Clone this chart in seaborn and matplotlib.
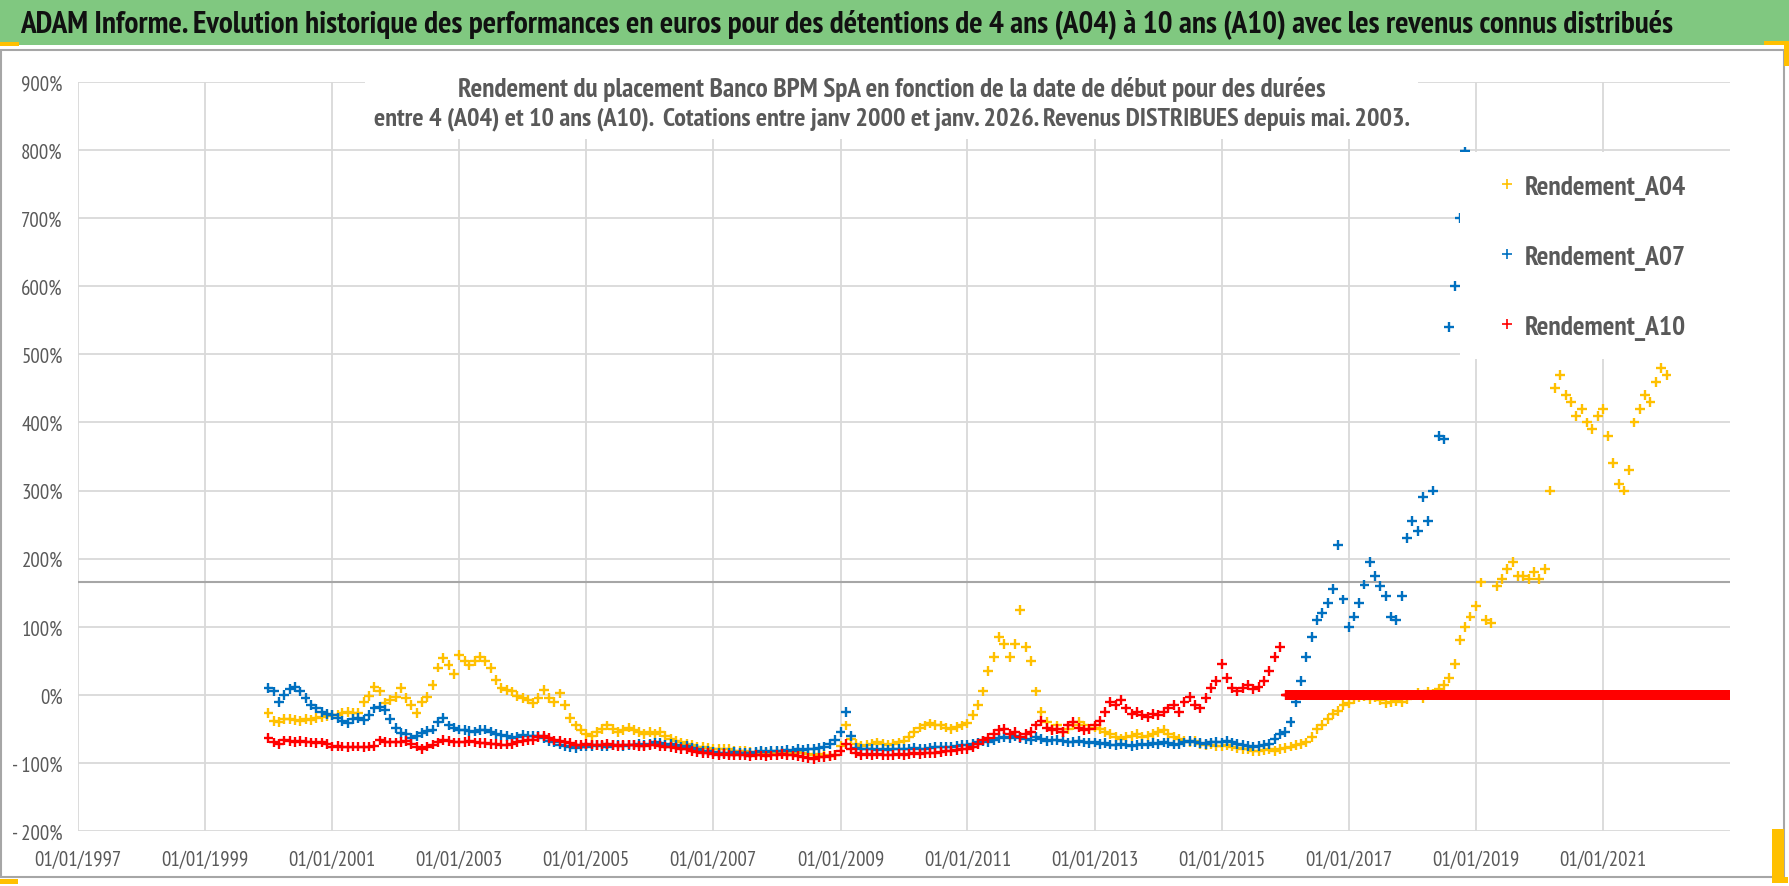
import numpy as np
import pandas as pd
import matplotlib
matplotlib.use("Agg")
import matplotlib.pyplot as plt
import matplotlib.dates as mdates
from matplotlib import font_manager
from matplotlib.patches import Rectangle
from matplotlib.lines import Line2D
import seaborn as sns

# monthly values (%), first value = January 2000
a04 = [
    # 2000
    -27, -38, -40, -36, -35, -37, -38, -36, -37, -34, -33, -31,
    # 2001
    -30, -29, -26, -25, -27, -27, -10, -2, 12, 5, -12, -8,
    # 2002
    -3, 10, -5, -15, -27, -10, -3, 15, 40, 54, 44, 30,
    # 2003
    59, 50, 44, 50, 56, 50, 39, 22, 10, 7, 5, -2,
    # 2004
    -5, -7, -12, -5, 7, -5, -10, 2, -15, -34, -45, -51,
    # 2005
    -58, -61, -55, -50, -45, -50, -55, -52, -48, -52, -55, -58,
    # 2006
    -55, -58, -55, -60, -65, -68, -70, -72, -74, -76, -77, -78,
    # 2007
    -80, -80, -79, -80, -82, -83, -82, -84, -85, -84, -85, -86,
    # 2008
    -84, -85, -86, -85, -84, -86, -87, -88, -87, -88, -90, -88,
    # 2009
    -75, -45, -65, -72, -75, -73, -72, -70, -72, -74, -72, -70,
    # 2010
    -68, -62, -55, -48, -45, -42, -44, -45, -48, -50, -47, -45,
    # 2011
    -42, -30, -15, 5, 35, 55, 85, 75, 55, 75, 125, 70,
    # 2012
    50, 5, -25, -40, -50, -45, -55, -50, -45, -40, -45, -50,
    # 2013
    -48, -50, -55, -58, -62, -65, -62, -60, -58, -62, -60, -58,
    # 2014
    -55, -52, -58, -62, -65, -68, -70, -68, -72, -74, -73, -75,
    # 2015
    -75, -74, -76, -78, -80, -79, -82, -83, -81, -80, -82, -80,
    # 2016
    -78, -76, -74, -72, -70, -62, -50, -44, -36, -28, -24, -15,
    # 2017
    -12, -6, -4, -2, -6, -3, -8, -12, -10, -9, -11, -6,
    # 2018
    0, 3, -5, 5, 2, 8, 15, 25, 45, 80, 100, 115,
    # 2019
    130, 165, 110, 105, 160, 170, 185, 195, 175, 175, 170, 180,
    # 2020
    170, 185, 300, 450, 470, 440, 430, 410, 420, 400, 390, 410,
    # 2021
    420, 380, 340, 310, 300, 330, 400, 420, 440, 430, 460, 480,
    # 2022
    470,
]

a07 = [
    # 2000
    10, 5, -10, 0, 8, 12, 5, -5, -15, -20, -25, -28,
    # 2001
    -30, -34, -38, -41, -36, -34, -37, -30, -20, -18, -22, -35,
    # 2002
    -49, -56, -58, -63, -60, -56, -53, -51, -40, -34, -45, -48,
    # 2003
    -51, -52, -53, -54, -52, -51, -54, -57, -59, -61, -63, -62,
    # 2004
    -59, -60, -61, -61, -64, -68, -70, -73, -75, -77, -78, -76,
    # 2005
    -76, -75, -74, -75, -76, -74, -73, -75, -74, -73, -72, -74,
    # 2006
    -72, -70, -71, -73, -72, -74, -76, -75, -78, -80, -82, -83,
    # 2007
    -84, -85, -86, -85, -84, -85, -86, -85, -84, -83, -84, -82,
    # 2008
    -82, -83, -81, -82, -80, -81, -80, -79, -78, -76, -72, -66,
    # 2009
    -55, -25, -60, -78, -80, -79, -80, -81, -80, -81, -80, -79,
    # 2010
    -80, -79, -78, -80, -79, -78, -77, -76, -77, -76, -75, -74,
    # 2011
    -74, -72, -70, -68, -70, -66, -64, -62, -64, -60, -63, -65,
    # 2012
    -66, -62, -65, -68, -67, -66, -68, -70, -69, -68, -70, -71,
    # 2013
    -70, -72, -71, -73, -74, -72, -73, -75, -74, -72, -73, -71,
    # 2014
    -72, -70, -71, -73, -72, -70, -68, -70, -71, -72, -70, -69,
    # 2015
    -70, -68, -70, -72, -74, -75, -76, -75, -73, -72, -65, -58,
    # 2016
    -55, -40, -10, 20, 55, 85, 110, 120, 135, 155, 220, 140,
    # 2017
    100, 115, 135, 162, 195, 175, 160, 145, 115, 110, 145, 230,
    # 2018
    255, 240, 290, 255, 300, 380, 375, 540, 600, 700, 798, 720,
    # 2019
    680,
]

a10 = [
    # 2000
    -63, -70, -72, -67, -68, -69, -68, -69, -70, -71, -70, -72,
    # 2001
    -76, -75, -76, -77, -76, -76, -77, -76, -75, -67, -69, -70,
    # 2002
    -70, -69, -68, -72, -76, -79, -76, -73, -70, -66, -68, -70,
    # 2003
    -70, -69, -68, -70, -71, -71, -72, -72, -73, -73, -72, -70,
    # 2004
    -68, -67, -66, -62, -61, -64, -67, -68, -70, -71, -73, -73,
    # 2005
    -72, -73, -74, -73, -72, -74, -75, -74, -73, -74, -75, -75,
    # 2006
    -74, -73, -75, -76, -77, -78, -79, -80, -82, -84, -85, -86,
    # 2007
    -87, -88, -87, -88, -89, -88, -89, -90, -88, -89, -90, -89,
    # 2008
    -88, -87, -88, -89, -90, -91, -93, -94, -92, -91, -90, -88,
    # 2009
    -82, -72, -80, -86, -88, -87, -88, -87, -88, -89, -88, -87,
    # 2010
    -88, -87, -86, -87, -86, -85, -86, -84, -83, -82, -81, -80,
    # 2011
    -79, -77, -72, -67, -64, -58, -52, -50, -58, -55, -62, -58,
    # 2012
    -55, -45, -38, -48, -52, -50, -55, -45, -40, -48, -52, -50,
    # 2013
    -45, -38, -25, -10, -15, -8, -20, -28, -25, -30, -32, -28,
    # 2014
    -30, -25, -20, -15, -25, -10, -3, -15, -20, -5, 10, 20,
    # 2015
    45, 25, 10, 5, 10, 15, 8, 12, 20, 35, 55, 70,
]
# from January 2016 to January 2023 the A10 series stays at 0 % (weekly points)
a10_zero_dates = pd.date_range("2016-01-04", "2023-01-01", freq="W-MON")
a10_zero = [0] * len(a10_zero_dates)

series_names = ["Rendement_A04", "Rendement_A07", "Rendement_A10"]
colors = ["#FFC000", "#0070C0", "#FF0000"]

title = ("ADAM Informe. Evolution historique des performances en euros pour des détentions "
         "de 4 ans (A04) à 10 ans (A10) avec les revenus connus distribués")
subtitle_1 = "Rendement du placement Banco BPM SpA en fonction de la date de début pour des durées"
subtitle_2 = ("entre 4 (A04) et 10 ans (A10).  Cotations entre janv 2000 et janv. 2026. "
              "Revenus DISTRIBUES depuis mai. 2003.")

frames = []
for name, vals in zip(series_names, [a04, a07, a10]):
    frames.append(pd.DataFrame({
        "date": pd.date_range("2000-01-01", periods=len(vals), freq="MS"),
        "value": vals,
        "series": name,
    }))
frames.append(pd.DataFrame({"date": a10_zero_dates, "value": a10_zero,
                            "series": series_names[2]}))
df = pd.concat(frames, ignore_index=True)

sns.set_style("white")
installed = {f.name for f in font_manager.fontManager.ttflist}
font = next(f for f in ["PT Sans Narrow", "Roboto Condensed", "DejaVu Sans"] if f in installed)
plt.rcParams["font.family"] = [font, "DejaVu Sans"]

W, H = 1790, 887
fig = plt.figure(figsize=(W / 100, H / 100), dpi=100)
ax = fig.add_axes([78 / W, (H - 832) / H, (1730 - 78) / W, (832 - 83) / H])

sns.scatterplot(data=df, x="date", y="value", hue="series", hue_order=series_names,
                palette=colors, marker="+", s=50, linewidth=1.7, legend=False, ax=ax,
                zorder=3)

ax.set_xlim(pd.Timestamp("1997-01-01"), pd.Timestamp("2023-01-01"))
ax.set_ylim(-200, 900)
ax.set_yticks(range(-200, 901, 100))
ax.yaxis.set_major_formatter(plt.FuncFormatter(
    lambda v, p: f"{v:.0f}%" if v >= 0 else f"- {abs(v):.0f}%"))
ax.set_xticks([pd.Timestamp(f"{y}-01-01") for y in range(1997, 2022, 2)])
ax.xaxis.set_major_formatter(mdates.DateFormatter("%d/%m/%Y"))
ax.grid(True, color="#D9D9D9", linewidth=1.3)
ax.set_axisbelow(True)
for sp in ax.spines.values():
    sp.set_visible(False)
ax.tick_params(axis="both", length=0, labelsize=15, labelcolor="#595959")
ax.tick_params(axis="y", pad=11)
ax.tick_params(axis="x", pad=14)
ax.set_xlabel("")
ax.set_ylabel("")

# grey horizontal line across the plot
ax.axhline(165, color="#A6A6A6", linewidth=1.5, zorder=2)

# green banner with the main title
fig.patches.append(Rectangle((0, 1 - 46 / H), 1, 46 / H, transform=fig.transFigure,
                             facecolor="#80C880", edgecolor="none", zorder=0))
t_title = fig.text(20 / W, 1 - 24 / H, title, ha="left", va="center", fontsize=19,
                   fontweight="bold", color="#111111")

# outer chart border and selection marks
fig.patches.append(Rectangle((1 / W, 1 - 878 / H), 1783 / W, (878 - 51) / H,
                             transform=fig.transFigure, facecolor="none",
                             edgecolor="#A6A6A6", linewidth=1.5, zorder=1))
for (x0, y0, w, h) in [(0, 880, 18, 5), (1772, 830, 12, 54), (1772, 878, 16, 6),
                       (0, 43, 19, 4), (1764, 42, 26, 4), (1784, 42, 6, 25)]:
    fig.patches.append(Rectangle((x0 / W, 1 - (y0 + h) / H), w / W, h / H,
                                 transform=fig.transFigure, facecolor="#FFC000",
                                 edgecolor="none", zorder=1))

# white box behind the subtitle
ax.add_patch(Rectangle((365 / W, 1 - 140 / H), (1418 - 365) / W, (140 - 68) / H,
                       transform=fig.transFigure, facecolor="white", edgecolor="none",
                       zorder=2.5, clip_on=False))
t_sub1 = fig.text(892 / W, 1 - 90 / H, subtitle_1, ha="center", va="center", fontsize=17,
                  fontweight="bold", color="#595959")
t_sub2 = fig.text(892 / W, 1 - 119 / H, subtitle_2, ha="center", va="center", fontsize=17,
                  fontweight="bold", color="#595959")

# legend in a white box
ax.add_patch(Rectangle((1460 / W, 1 - 360 / H), (1730 - 1460) / W, (360 - 153) / H,
                       transform=fig.transFigure, facecolor="white", edgecolor="none",
                       zorder=4, clip_on=False))
handles = [Line2D([], [], linestyle="none", marker="+", markersize=7, markeredgewidth=1.2,
                  color=c) for c in colors]

# scale the texts to the widths they have in the reference
renderer = fig.canvas.get_renderer()
for t, target in [(t_title, 1642), (t_sub1, 870), (t_sub2, 1038)]:
    w = t.get_window_extent(renderer).width
    t.set_fontsize(t.get_fontsize() * target / w)
probe = fig.text(0, 0, series_names[0], fontsize=20, fontweight="bold")
leg_size = 20 * 162 / probe.get_window_extent(renderer).width
probe.remove()

leg = ax.legend(handles, series_names, loc="center left",
                bbox_to_anchor=(1486 / W, 1 - 258 / H), bbox_transform=fig.transFigure,
                frameon=False, fontsize=leg_size, labelspacing=1.62, handlelength=0.5,
                handletextpad=0.4, borderpad=0)
leg.set_zorder(5)
for t in leg.get_texts():
    t.set_color("#595959")
    t.set_fontweight("bold")

fig.savefig("out.png", dpi=100)
